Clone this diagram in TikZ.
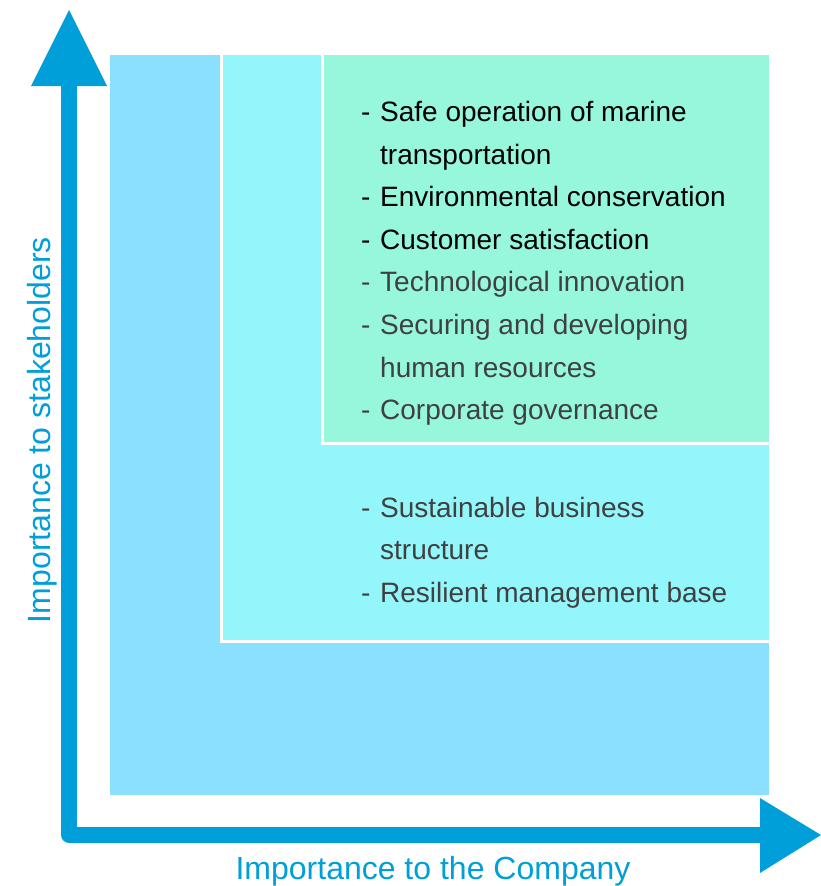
\documentclass[tikz,border=0pt]{standalone}
\usepackage{fontspec}
\setmainfont{Liberation Sans}
\definecolor{axisblue}{HTML}{009FD9}
\definecolor{zoneA}{HTML}{8BDFFF}
\definecolor{zoneB}{HTML}{93F6FB}
\definecolor{zoneC}{HTML}{96F7DC}
\definecolor{darktext}{HTML}{404040}
\begin{document}
\begin{tikzpicture}[x=1pt,y=-1pt,
  item/.style={anchor=base west,inner sep=0pt,font=\fontsize{28}{33}\selectfont},
  keyitem/.style={item,text=black},
  otheritem/.style={item,text=darktext},
  axislabel/.style={inner sep=0pt,text=axisblue,font=\fontsize{32}{38}\selectfont},
  zone/.style={draw=white,line width=3pt}]
\useasboundingbox (0,0) rectangle (821,886);
% materiality zones
\fill[zoneA] (110,55) rectangle (769,795);
\filldraw[zone,fill=zoneB] (221,53) rectangle (771,641);
\filldraw[zone,fill=zoneC] (322,53) rectangle (771,443);
\fill[white] (769,40) rectangle (780,800);
\fill[white] (100,40) rectangle (780,55);
% axes
\coordinate (ytop) at (69,86);
\coordinate (origin) at (69,835);
\coordinate (xend) at (760,835);
\draw[axisblue,line width=15.5pt,line join=round] (ytop) -- (origin) -- (xend);
\fill[axisblue] (69,10) -- (31,86) -- (107,86) -- cycle;
\fill[axisblue] (821,835) -- (760,798) -- (760,873) -- cycle;
\node[axislabel,rotate=90] (ylab) at (42,430) {Importance to stakeholders};
\node[axislabel] (xlab) at (433,871) {Importance to the Company};
% high-importance issues
\node[keyitem] (d1) at (361,121) {-};
\node[keyitem] (t1) at (380,121) {Safe operation of marine};
\node[keyitem] (t1b) at (380,164) {transportation};
\node[keyitem] (d2) at (361,206) {-};
\node[keyitem] (t2) at (380,206) {Environmental conservation};
\node[keyitem] (d3) at (361,249) {-};
\node[keyitem] (t3) at (380,249) {Customer satisfaction};
\node[otheritem] (d4) at (361,291) {-};
\node[otheritem] (t4) at (380,291) {Technological innovation};
\node[otheritem] (d5) at (361,334) {-};
\node[otheritem] (t5) at (380,334) {Securing and developing};
\node[otheritem] (t5b) at (380,377) {human resources};
\node[otheritem] (d6) at (361,419) {-};
\node[otheritem] (t6) at (380,419) {Corporate governance};
% medium-importance issues
\node[otheritem] (d7) at (361,517) {-};
\node[otheritem] (t7) at (380,517) {Sustainable business};
\node[otheritem] (t7b) at (380,559) {structure};
\node[otheritem] (d8) at (361,602) {-};
\node[otheritem] (t8) at (380,602) {Resilient management base};
\end{tikzpicture}
\end{document}
